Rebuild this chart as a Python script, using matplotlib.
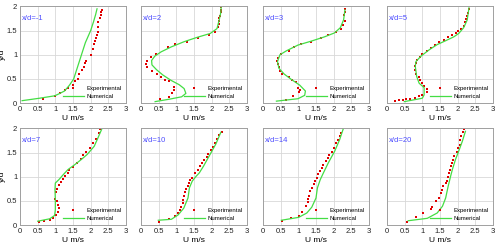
import numpy as np
import matplotlib
matplotlib.use('Agg')
import matplotlib.pyplot as plt

# ---- Data ----
labels = ['x/d=-1', 'x/d=2', 'x/d=3', 'x/d=5', 'x/d=7', 'x/d=10', 'x/d=14', 'x/d=20']

# x/d=-1
exp_u_m1 = [0.65, 0.98, 1.14, 1.27, 1.35, 1.5, 1.57, 1.63, 1.67, 1.75, 1.8, 1.83, 1.87, 2.0, 2.06, 2.1,
            2.13, 2.15, 2.18, 2.2, 2.21, 2.22, 2.26, 2.28, 2.3, 2.31]
exp_y_m1 = [0.08, 0.14, 0.2, 0.27, 0.32, 0.38, 0.45, 0.5, 0.6, 0.68, 0.75, 0.82, 0.87, 1.0, 1.12, 1.22,
            1.28, 1.35, 1.4, 1.48, 1.57, 1.67, 1.75, 1.83, 1.88, 1.93]
num_u_m1 = [0.06, 0.55, 0.98, 1.1, 1.26, 1.4, 1.52, 1.63, 1.74, 1.85, 2.0, 2.08, 2.14, 2.18]
num_y_m1 = [0.05, 0.1, 0.15, 0.19, 0.25, 0.37, 0.5, 0.75, 1.0, 1.25, 1.5, 1.68, 1.83, 1.95]

# x/d=2
exp_u_2 = [0.53, 0.78, 0.88, 0.92, 0.93, 0.8, 0.69, 0.57, 0.46, 0.3, 0.18, 0.13, 0.16, 0.27, 0.43,
           0.76, 0.96, 1.3, 1.6, 1.92, 2.1, 2.19, 2.2, 2.21, 2.22, 2.24, 2.26, 2.26, 2.26]
exp_y_2 = [0.08, 0.13, 0.21, 0.27, 0.34, 0.45, 0.47, 0.54, 0.61, 0.67, 0.74, 0.81, 0.87, 0.95, 1.01,
           1.15, 1.22, 1.27, 1.35, 1.4, 1.46, 1.57, 1.63, 1.7, 1.75, 1.81, 1.88, 1.93, 1.98]
num_u_2 = [0.4, 0.8, 1.15, 1.27, 1.22, 1.08, 0.85, 0.62, 0.44, 0.31, 0.3, 0.39, 0.57, 0.85, 1.22,
           1.59, 1.96, 2.15, 2.21, 2.26, 2.27]
num_y_2 = [0.03, 0.08, 0.13, 0.2, 0.3, 0.38, 0.47, 0.58, 0.69, 0.79, 0.88, 0.97, 1.06, 1.16, 1.27,
           1.36, 1.44, 1.54, 1.71, 1.88, 2.0]

# x/d=3
exp_u_3 = [0.64, 0.85, 1.02, 1.04, 0.99, 0.94, 0.83, 0.73, 0.54, 0.49, 0.45, 0.43, 0.41, 0.43, 0.5,
           0.73, 0.87, 1.07, 1.35, 1.64, 1.85, 2.06, 2.2, 2.25, 2.32, 2.3, 2.32, 2.32]
exp_y_3 = [0.07, 0.15, 0.22, 0.28, 0.32, 0.43, 0.48, 0.53, 0.6, 0.67, 0.74, 0.81, 0.87, 0.93, 1.01,
           1.07, 1.15, 1.22, 1.27, 1.34, 1.4, 1.48, 1.54, 1.61, 1.7, 1.82, 1.89, 1.94]
num_u_3 = [0.38, 0.99, 1.18, 1.2, 1.04, 0.8, 0.6, 0.45, 0.41, 0.48, 0.66, 0.99, 1.36, 1.74, 2.02,
           2.19, 2.28, 2.32]
num_y_3 = [0.04, 0.09, 0.16, 0.25, 0.37, 0.49, 0.6, 0.72, 0.86, 1.0, 1.08, 1.2, 1.28, 1.37, 1.45,
           1.56, 1.72, 1.93]

# x/d=5
exp_u_5 = [0.23, 0.35, 0.44, 0.53, 0.65, 0.79, 0.91, 1.0, 1.12, 1.14, 1.05, 1.0, 0.93, 0.9, 0.82,
           0.8, 0.8, 0.82, 0.86, 0.94, 1.0, 1.12, 1.24, 1.35, 1.47, 1.61, 1.73, 1.85, 1.94, 2.01,
           2.1, 2.17, 2.2, 2.24, 2.27, 2.3, 2.32, 2.32]
exp_y_5 = [0.04, 0.06, 0.07, 0.08, 0.09, 0.1, 0.14, 0.17, 0.22, 0.29, 0.36, 0.41, 0.48, 0.53, 0.61,
           0.68, 0.76, 0.83, 0.9, 0.95, 1.01, 1.07, 1.14, 1.21, 1.26, 1.31, 1.36, 1.4, 1.44, 1.49,
           1.53, 1.6, 1.67, 1.74, 1.81, 1.87, 1.94, 2.0]
num_u_5 = [0.49, 1.0, 1.05, 1.05, 0.91, 0.84, 0.8, 0.82, 0.96, 1.19, 1.42, 1.66, 1.89, 2.03, 2.17,
           2.27, 2.32]
num_y_5 = [0.03, 0.1, 0.17, 0.32, 0.41, 0.55, 0.76, 0.86, 0.97, 1.1, 1.21, 1.29, 1.37, 1.44, 1.56,
           1.72, 1.97]

# x/d=7
exp_u_7 = [0.53, 0.69, 0.84, 0.93, 1.03, 1.07, 1.09, 1.07, 1.04, 1.0, 1.03, 1.05, 1.09, 1.15, 1.22,
           1.28, 1.36, 1.4, 1.5, 1.61, 1.72, 1.79, 1.88, 1.99, 2.07, 2.16, 2.24, 2.26]
exp_y_7 = [0.07, 0.09, 0.11, 0.15, 0.2, 0.28, 0.35, 0.42, 0.49, 0.54, 0.68, 0.75, 0.82, 0.89, 0.95,
           1.01, 1.08, 1.13, 1.2, 1.29, 1.37, 1.44, 1.51, 1.6, 1.69, 1.79, 1.9, 1.98]
num_u_7 = [0.5, 0.84, 0.98, 1.0, 1.0, 0.99, 1.0, 1.1, 1.22, 1.36, 1.55, 1.74, 1.9, 2.1, 2.21, 2.31]
num_y_7 = [0.08, 0.13, 0.2, 0.32, 0.53, 0.73, 0.87, 0.94, 1.04, 1.15, 1.25, 1.36, 1.46, 1.63, 1.81, 1.98]

# x/d=10
exp_u_10 = [0.51, 0.8, 0.96, 1.05, 1.1, 1.14, 1.19, 1.19, 1.21, 1.24, 1.28, 1.33, 1.35, 1.39, 1.45,
            1.54, 1.62, 1.68, 1.73, 1.79, 1.86, 1.91, 1.98, 2.04, 2.1, 2.14, 2.21, 2.28]
exp_y_10 = [0.07, 0.13, 0.19, 0.25, 0.31, 0.37, 0.46, 0.51, 0.61, 0.68, 0.75, 0.81, 0.88, 0.93, 0.98,
            1.07, 1.14, 1.22, 1.28, 1.34, 1.41, 1.48, 1.55, 1.62, 1.7, 1.79, 1.87, 1.93]
num_u_10 = [0.49, 0.86, 1.05, 1.21, 1.33, 1.37, 1.45, 1.56, 1.65, 1.77, 1.93, 2.12, 2.26]
num_y_10 = [0.1, 0.12, 0.21, 0.35, 0.56, 0.77, 0.91, 1.01, 1.08, 1.22, 1.43, 1.68, 1.92]

# x/d=14
exp_u_14 = [0.55, 0.8, 1.01, 1.1, 1.23, 1.26, 1.27, 1.29, 1.34, 1.38, 1.43, 1.48, 1.52, 1.57, 1.62,
            1.66, 1.71, 1.77, 1.83, 1.88, 1.96, 2.01, 2.08, 2.13, 2.17, 2.22, 2.25]
exp_y_14 = [0.08, 0.14, 0.19, 0.28, 0.39, 0.47, 0.54, 0.6, 0.7, 0.77, 0.84, 0.91, 0.98, 1.05, 1.11,
            1.18, 1.25, 1.32, 1.39, 1.46, 1.51, 1.6, 1.69, 1.77, 1.84, 1.91, 2.0]
num_u_14 = [0.52, 1.01, 1.24, 1.38, 1.5, 1.54, 1.62, 1.71, 1.85, 2.03, 2.17, 2.28]
num_y_14 = [0.1, 0.16, 0.25, 0.37, 0.56, 0.77, 0.94, 1.08, 1.29, 1.53, 1.77, 2.01]

# x/d=20
exp_u_20 = [0.56, 0.82, 1.02, 1.24, 1.27, 1.4, 1.47, 1.54, 1.56, 1.59, 1.66, 1.69, 1.73, 1.75, 1.78,
            1.82, 1.85, 1.86, 1.89, 1.97, 2.0, 2.06, 2.08, 2.1, 2.16, 2.17]
exp_y_20 = [0.06, 0.17, 0.26, 0.33, 0.37, 0.49, 0.56, 0.66, 0.73, 0.81, 0.87, 0.92, 1.0, 1.07, 1.15,
            1.22, 1.29, 1.34, 1.43, 1.51, 1.6, 1.66, 1.75, 1.84, 1.92, 1.99]
num_u_20 = [0.6, 1.14, 1.42, 1.57, 1.66, 1.73, 1.8, 1.85, 1.94, 2.03, 2.13, 2.22]
num_y_20 = [0.09, 0.14, 0.25, 0.39, 0.56, 0.8, 1.01, 1.15, 1.36, 1.53, 1.73, 1.94]

exp_u = [exp_u_m1, exp_u_2, exp_u_3, exp_u_5, exp_u_7, exp_u_10, exp_u_14, exp_u_20]
exp_y = [exp_y_m1, exp_y_2, exp_y_3, exp_y_5, exp_y_7, exp_y_10, exp_y_14, exp_y_20]
num_u = [num_u_m1, num_u_2, num_u_3, num_u_5, num_u_7, num_u_10, num_u_14, num_u_20]
num_y = [num_y_m1, num_y_2, num_y_3, num_y_5, num_y_7, num_y_10, num_y_14, num_y_20]

# ---- Plotting ----
plt.rcParams['font.family'] = ['Liberation Sans', 'DejaVu Sans']
fig = plt.figure(figsize=(5.0, 2.46), dpi=100)

lefts = [0.040, 0.282, 0.526, 0.774]
bottoms = [0.581, 0.085]
w, h = 0.212, 0.393

for idx in range(8):
    row, col = idx // 4, idx % 4
    ax = fig.add_axes([lefts[col], bottoms[row], w, h])
    ax.plot(exp_u[idx], exp_y[idx], 's', color='#e00000', markersize=1.9,
            markeredgewidth=0, label='Experimental')
    ax.plot(num_u[idx], num_y[idx], '-', color='#44dd44', linewidth=0.9, label='Numerical')
    ax.set_xlim(0, 3)
    ax.set_ylim(0, 2)
    ax.set_xticks(np.arange(0, 3.01, 0.5))
    ax.set_xticklabels(['0', '0.5', '1', '1.5', '2', '2.5', '3'])
    ax.set_yticks(np.arange(0, 2.01, 0.5))
    ax.grid(True, color='#d8d8d8', linewidth=0.6)
    ax.set_axisbelow(True)
    for s in ax.spines.values():
        s.set_color('#a0a0a0')
        s.set_linewidth(0.7)
    ax.tick_params(length=0, labelsize=5.5, pad=2, colors='#222222')
    if col == 0:
        ax.set_yticklabels(['0', '0.5', '1', '1.5', '2'])
        ax.set_ylabel('y/d', fontsize=6)
        ax.yaxis.set_label_coords(-0.13, 0.5)
    else:
        ax.set_yticklabels([])
    ax.set_xlabel('U m/s', fontsize=6, labelpad=1.5)
    ax.text(0.02, 0.86, labels[idx], transform=ax.transAxes, fontsize=5.5, color='#4d4dff')
    ax.legend(loc='lower right', frameon=False, fontsize=4.3, handlelength=3.6, numpoints=1,
              handletextpad=0.4, labelspacing=0.45, borderaxespad=0.4, borderpad=0.3)

fig.savefig('out.png', dpi=100)
